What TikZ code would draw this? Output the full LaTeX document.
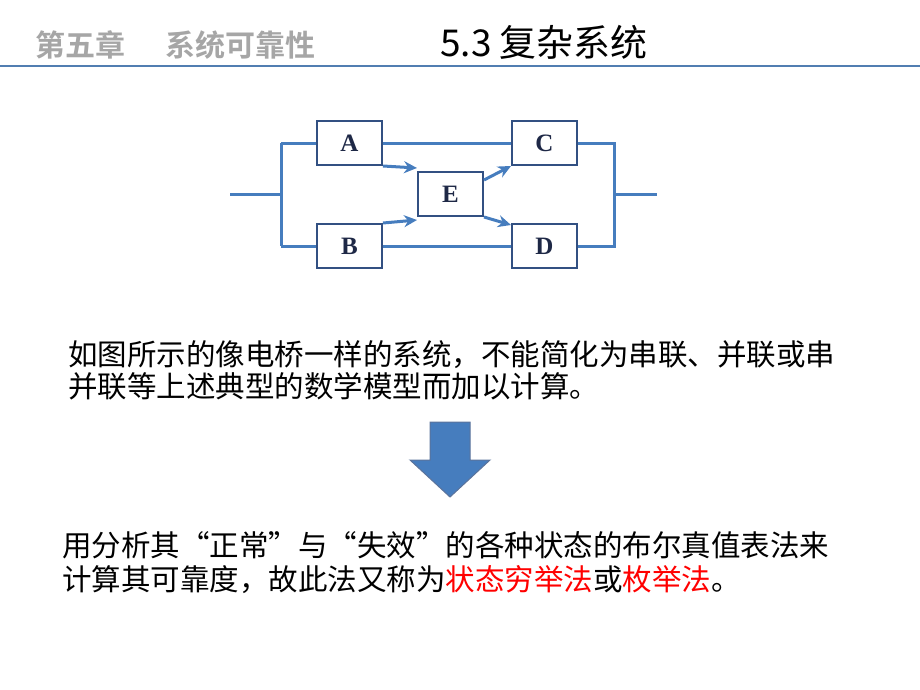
\documentclass[tikz,border=0pt]{standalone}
\usepackage{fontspec}
\newfontfamily\cjk{Noto Sans CJK SC}
\newfontfamily\cjkb{Noto Sans CJK SC Bold}
\setmainfont{Liberation Serif}
\usetikzlibrary{arrows.meta}
\definecolor{ln}{RGB}{70,125,190}
\definecolor{bx}{RGB}{50,80,130}
\definecolor{tx}{RGB}{30,40,70}
\begin{document}
\begin{tikzpicture}[x=1pt,y=-1pt,
  blk/.style={draw=bx,line width=2pt,minimum width=65pt,minimum height=44pt,inner sep=0pt,font=\fontsize{25}{25}\selectfont\bfseries,text=tx},
  wire/.style={draw=ln,line width=3pt},
  arr/.style={wire,-{Stealth[length=13pt,width=12pt]}},
  body/.style={anchor=west,font=\cjk\fontsize{29.5}{29.5}\selectfont,inner sep=0pt}]
\useasboundingbox (0,0) rectangle (920,690);
\node[anchor=west,text=gray!70,font=\cjkb\fontsize{30}{30}\selectfont,inner sep=0pt] (h1) at (35,45) {第五章\hspace{40pt}系统可靠性};
\node[anchor=west,font=\cjk\fontsize{37}{37}\selectfont,inner sep=0pt] (h2) at (440,42) {5.3 复杂系统};
\draw[draw=ln!80!gray,line width=2pt] (0,66) -- (920,66);
\node[blk] (A) at (349.5,143) {A};
\node[blk] (C) at (544.5,143) {C};
\node[blk] (E) at (450.5,194) {E};
\node[blk] (B) at (349.5,246) {B};
\node[blk] (D) at (544.5,246) {D};
\coordinate (in) at (230,194);
\coordinate (out) at (657,194);
\coordinate (l1) at (281,143); \coordinate (l2) at (281,246); \coordinate (l0) at (281,194);
\coordinate (r1) at (614,143); \coordinate (r2) at (614,246); \coordinate (r0) at (614,194);
\draw[wire] (in) -- (l0);
\draw[wire] (l1) -- (l2);
\draw[wire] (l1) -- (A.west);
\draw[wire] (l2) -- (B.west);
\draw[wire] (A.east) -- (C.west);
\draw[wire] (B.east) -- (D.west);
\draw[wire] (C.east) -- (r1) -- (r2) -- (D.east);
\draw[wire] (r0) -- (out);
\draw[arr] (A.south east) -- ([yshift=3pt]E.north west);
\draw[arr] (B.north east) -- ([yshift=-3pt]E.south west);
\draw[arr] ([yshift=-9pt]E.north east) -- (C.south west);
\draw[arr] (E.south east) -- ([yshift=-2pt]D.north west);
\node[body] (t1) at (68,355) {如图所示的像电桥一样的系统，不能简化为串联、并联或串};
\node[body] (t2) at (68,386) {并联等上述典型的数学模型而加以计算。};
\fill[ln,draw=bx!80,line width=1pt] (430,422) -- (470,422) -- (470,460) -- (490,460) -- (450,497) -- (410,460) -- (430,460) -- cycle;
\node[body] (t3) at (62,545) {用分析其“正常”与“失效”的各种状态的布尔真值表法来};
\node[body] (t4) at (62,580) {计算其可靠度，故此法又称为\textcolor{red}{状态穷举法}或\textcolor{red}{枚举法}。};
\end{tikzpicture}
\end{document}
